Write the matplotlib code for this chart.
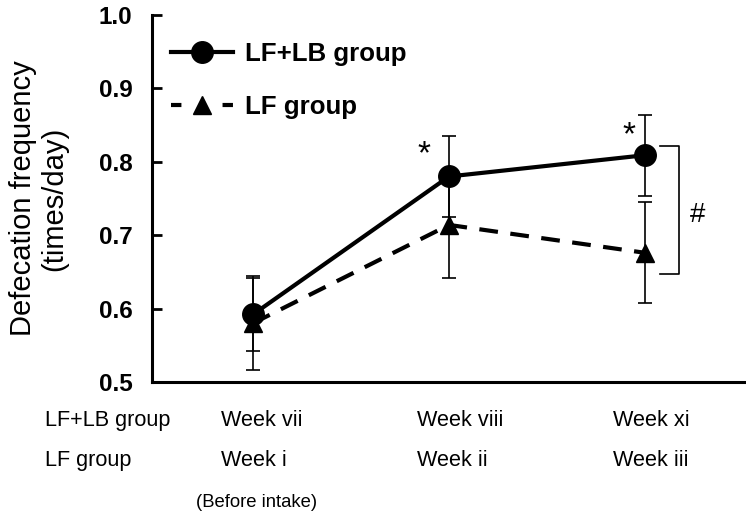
import numpy as np
import matplotlib
matplotlib.use("Agg")
from matplotlib import pyplot as plt
from matplotlib.lines import Line2D

plt.rcParams['font.family'] = ['Liberation Sans', 'DejaVu Sans']

# data
weeks_lflb = ['Week vii', 'Week viii', 'Week xi']
weeks_lf = ['Week i', 'Week ii', 'Week iii']
lflb_mean = [0.592, 0.780, 0.809]
lflb_sd = [0.050, 0.055, 0.055]
lf_mean = [0.580, 0.714, 0.676]
lf_sd = [0.064, 0.072, 0.069]
yticks = [0.5, 0.6, 0.7, 0.8, 0.9, 1.0]

x = np.arange(len(weeks_lflb))

fig = plt.figure(figsize=(7.46, 5.12), dpi=100)
ax = fig.add_axes([152/746, 1-382/512, 1-152/746, 367/512])

# LF group (dashed, triangles)
ax.errorbar(x, lf_mean, yerr=lf_sd, fmt='none', ecolor='black', elinewidth=1.2,
            capsize=4.7, capthick=1.2, zorder=2)
ax.plot(x, lf_mean, color='black', lw=3, linestyle=(0, (4.5, 3)), marker='^',
        markersize=13, zorder=3)
# LF+LB group (solid, circles)
ax.errorbar(x, lflb_mean, yerr=lflb_sd, fmt='none', ecolor='black', elinewidth=1.2,
            capsize=4.7, capthick=1.2, zorder=4)
ax.plot(x, lflb_mean, color='black', lw=3, marker='o', markersize=15.5, zorder=5)

ax.set_xlim(-0.515, 2.515)
ax.set_ylim(0.5, 1.0)
ax.set_yticks(yticks)
ax.set_yticklabels(['%.1f' % v for v in yticks], fontsize=17.5, fontweight='bold')
ax.tick_params(axis='y', direction='in', length=7, width=2, pad=14)
ax.set_xticks([])
for s in ['top', 'right']:
    ax.spines[s].set_visible(False)
for s in ['left', 'bottom']:
    ax.spines[s].set_linewidth(2.2)

ax.set_ylabel('Defecation frequency\n(times/day)', fontsize=21, labelpad=22,
              linespacing=1.15)

# significance marks
ax.text(0.872, 0.81, '*', fontsize=24, ha='center', va='center')
ax.text(1.918, 0.836, '*', fontsize=24, ha='center', va='center')
ax.plot([2.077, 2.173, 2.173, 2.077], [0.8215, 0.8215, 0.647, 0.647],
        color='black', lw=1.2, clip_on=False)
ax.text(2.27, 0.7275, '#', fontsize=20, ha='center', va='center')

# row labels under the axis
tr = ax.get_xaxis_transform()
ax.text(-1.061, -0.106, 'LF+LB group', fontsize=15.6, ha='left', va='center', transform=tr)
ax.text(-1.061, -0.215, 'LF group', fontsize=15.6, ha='left', va='center', transform=tr)
for i in range(len(x)):
    ax.text(x[i] - 0.165, -0.106, weeks_lflb[i], fontsize=15.6, ha='left', va='center', transform=tr)
    ax.text(x[i] - 0.165, -0.215, weeks_lf[i], fontsize=15.6, ha='left', va='center', transform=tr)
ax.text(x[0] + 0.02, -0.328, '(Before intake)', fontsize=13.3, ha='center', va='center', transform=tr)

handles = [Line2D([], [], color='black', lw=3, marker='o', markersize=15.5),
           Line2D([], [], color='black', lw=3, linestyle=(0, (2.5, 9.87)), marker='^', markersize=13)]
ax.legend(handles, ['LF+LB group', 'LF group'], loc='upper left', bbox_to_anchor=(0.015, 0.955),
          frameon=False, prop={'size': 18.6, 'weight': 'bold'}, handlelength=2.4,
          handletextpad=0.47, labelspacing=1.14, borderaxespad=0)

fig.savefig('out.png', dpi=100)
